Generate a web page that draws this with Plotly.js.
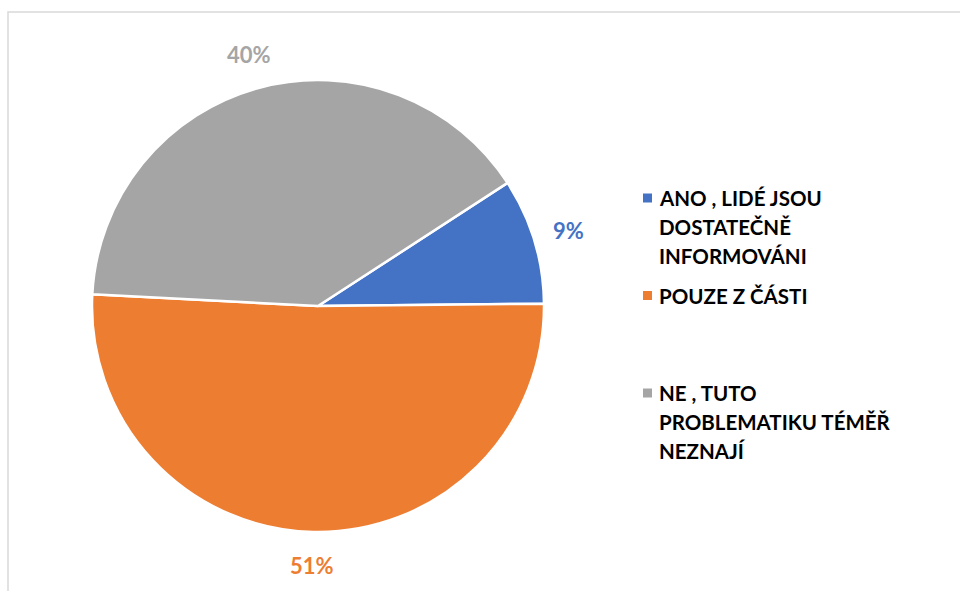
<!DOCTYPE html>
<html>
<head>
<meta charset="utf-8">
<script src="https://cdn.plot.ly/plotly-3.0.1.min.js"></script>
<style>html,body{margin:0;padding:0;background:#fff;}#chart{width:960px;height:591px;}</style>
</head>
<body>
<div id="chart"></div>
<script>
// ---- data ----
var categories = [
  "ANO , LIDÉ JSOU DOSTATEČNĚ INFORMOVÁNI",
  "POUZE Z ČÁSTI",
  "NE , TUTO PROBLEMATIKU TÉMĚŘ NEZNAJÍ"
];
var legendLines = [
  ["ANO , LIDÉ JSOU", "DOSTATEČNĚ", "INFORMOVÁNI"],
  ["POUZE Z ČÁSTI"],
  ["NE , TUTO", "PROBLEMATIKU TÉMĚŘ", "NEZNAJÍ"]
];
var values = [9, 51, 40];
var valueLabels = ["9%", "51%", "40%"];
var colors = ["#4472C4", "#ED7D31", "#A5A5A5"];

// ---- layout constants ----
var W = 960, H = 591;
var cx = 318, cy = 306, R = 226;     // pie centre / radius in px
var ROT = 57;                         // first slice start, degrees clockwise from 12 o'clock
var FONT = "Lato, 'Open Sans', sans-serif";
function px(x) { return x / W; }
function py(y) { return 1 - y / H; }

var trace = {
  type: "pie",
  labels: categories,
  values: values,
  textinfo: "none",
  hoverinfo: "label+percent",
  sort: false,
  direction: "clockwise",
  rotation: ROT,
  marker: {colors: colors, line: {color: "#ffffff", width: 2.5}},
  showlegend: false,
  domain: {x: [px(cx - R), px(cx + R)], y: [py(cy + R), py(cy - R)]}
};

var annotations = [];
var shapes = [];

// percentage labels placed just outside each slice's mid-angle
var total = values.reduce(function (a, b) { return a + b; }, 0);
var cum = 0;
values.forEach(function (v, i) {
  var midDeg = ROT + (cum + v / 2) / total * 360;
  cum += v;
  var th = (90 - midDeg) * Math.PI / 180;
  var ux = Math.cos(th), uy = Math.sin(th);
  var gap = 23;
  var halfW = valueLabels[i].length * 6.5, halfH = 11;
  var lx = cx + ux * (R + gap) + ux * halfW;
  var ly = cy - uy * (R + gap) - uy * halfH;
  annotations.push({
    xref: "paper", yref: "paper", x: px(lx), y: py(ly),
    xanchor: "center", yanchor: "middle", showarrow: false,
    text: valueLabels[i],
    font: {family: FONT, size: 22, color: colors[i], weight: "bold"}
  });
});

// legend (Excel style: equal spacing per entry, multi-line labels)
var legX = 643, legTextX = 657, legY0 = 198, itemStep = 97.5, lineStep = 29, box = 9;
legendLines.forEach(function (lines, i) {
  var yTop = legY0 + i * itemStep;
  shapes.push({
    type: "rect", xref: "paper", yref: "paper",
    x0: px(legX), x1: px(legX + box), y0: py(yTop + box / 2), y1: py(yTop - box / 2),
    fillcolor: colors[i], line: {width: 0}
  });
  lines.forEach(function (t, k) {
    annotations.push({
      xref: "paper", yref: "paper", x: px(legTextX), y: py(yTop + k * lineStep),
      xanchor: "left", yanchor: "middle", showarrow: false,
      text: t,
      font: {family: FONT, size: 20.5, color: "#000000", weight: "bold"}
    });
  });
});

// chart-area border
shapes.push({
  type: "rect", xref: "paper", yref: "paper",
  x0: px(8), x1: 1.2, y0: -0.2, y1: py(12),
  line: {color: "#D9D9D9", width: 1.5}, fillcolor: "rgba(0,0,0,0)", layer: "below"
});

var layout = {
  width: W,
  height: H,
  margin: {l: 0, r: 0, t: 0, b: 0},
  paper_bgcolor: "#ffffff",
  showlegend: false,
  annotations: annotations,
  shapes: shapes
};

Plotly.newPlot("chart", [trace], layout, {displayModeBar: false, staticPlot: true});
</script>
</body>
</html>
